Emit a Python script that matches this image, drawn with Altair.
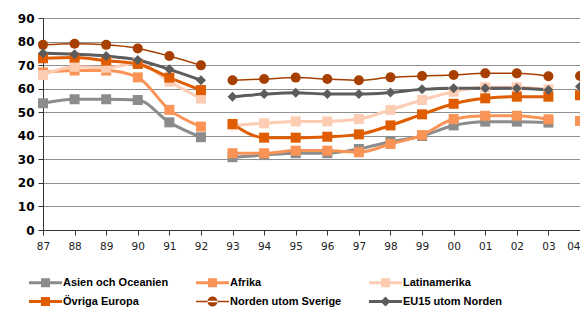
import altair as alt
import pandas as pd

years = ["87","88","89","90","91","92","93","94","95","96","97","98","99","00","01","02","03","04"]
segments = [0,0,0,0,0,0,1,1,1,1,1,1,1,1,1,1,1,2]

series_names = ["Asien och Oceanien", "Afrika", "Latinamerika",
                "Övriga Europa", "Norden utom Sverige", "EU15 utom Norden"]
colors = ["#8c8c8c", "#fa9456", "#fdcdb3", "#df5c00", "#a63f00", "#5c5c5c"]

asien = [53.8,55.5,55.5,55.2,45.7,39.4,30.9,31.8,32.6,32.6,34.4,37.5,39.9,44.4,46.0,46.0,45.6,None]
afrika = [66.9,67.7,67.7,64.8,51.0,43.9,32.6,32.6,33.7,33.7,33.0,36.5,40.3,47.1,48.5,48.5,47.0,46.3]
latin = [65.8,69.3,68.9,70.8,63.0,55.8,44.4,45.3,46.1,46.1,47.1,51.0,55.2,58.7,60.6,60.6,59.7,None]
ovriga = [72.9,73.2,71.9,70.5,64.7,59.4,45.0,39.2,39.2,39.6,40.6,44.4,49.1,53.6,55.9,56.6,56.6,57.2]
norden = [78.6,79.1,78.6,77.1,73.9,69.9,63.6,64.1,64.7,64.1,63.6,64.8,65.4,65.8,66.5,66.5,65.3,65.4]
eu15 = [75.0,74.6,73.9,72.2,68.2,63.6,56.6,57.7,58.3,57.7,57.7,58.4,59.7,60.2,60.2,60.2,59.4,60.9]

all_values = [asien, afrika, latin, ovriga, norden, eu15]
marker_shapes = ["square", "square", "square", "square", "circle", "diamond"]
marker_sizes = [100, 100, 100, 100, 121, 90]

rows = []
for name, vals in zip(series_names, all_values):
    for y, s, v in zip(years, segments, vals):
        if v is not None:
            rows.append({"year": y, "seg": s, "series": name, "value": v})
df = pd.DataFrame(rows)

# legend symbol paths (line + marker)
sq = "M-3.3,-0.3H3.3V0.3H-3.3Z M-0.9,-0.9H0.9V0.9H-0.9Z"
ci = ("M-3.3,-0.15H3.3V0.15H-3.3Z M-1,0 A1,1 0 1,0 1,0 A1,1 0 1,0 -1,0 Z")
di = "M-3.3,-0.3H3.3V0.3H-3.3Z M0,-1L1,0L0,1L-1,0Z"
legend_paths = [sq, sq, sq, sq, ci, di]

x_enc = alt.X("year:O", sort=years,
              scale=alt.Scale(type="point", padding=0, domain=years),
              axis=alt.Axis(title=None, labelAngle=0, domain=True, domainColor="#333",
                            ticks=True, tickColor="#333", tickSize=5, labelPadding=6,
                            labelFont="DejaVu Sans", labelFontSize=10.5,
                            labelAlign=alt.condition("datum.value == '04'",
                                                     alt.value("right"), alt.value("center")),
                            labelColor="#222", grid=False))
y_enc = alt.Y("value:Q",
              scale=alt.Scale(domain=[0, 90], nice=False),
              axis=alt.Axis(title=None, values=list(range(0, 100, 10)),
                            domain=True, domainColor="#333", ticks=True,
                            tickColor="#333", tickSize=5, labelPadding=4,
                            labelFont="DejaVu Sans", labelFontWeight="bold",
                            labelFontSize=12, labelColor="#000",
                            grid=True, gridColor="#8f8f8f", gridWidth=1))

color_scale = alt.Scale(domain=series_names, range=colors)
norden_name = "Norden utom Sverige"

thick_lines = alt.Chart(df).mark_line(interpolate="monotone", strokeWidth=3).encode(
    x=x_enc, y=y_enc,
    color=alt.Color("series:N", scale=color_scale, legend=None),
    detail="seg:N",
).transform_filter(alt.datum.series != norden_name)

thin_lines = alt.Chart(df).mark_line(interpolate="monotone", strokeWidth=1.5).encode(
    x=x_enc, y=y_enc,
    color=alt.Color("series:N", scale=color_scale, legend=None),
    detail="seg:N",
).transform_filter(alt.datum.series == norden_name)

points = alt.Chart(df).mark_point(filled=True, opacity=1).encode(
    x=x_enc, y=y_enc,
    color=alt.Color("series:N", scale=color_scale, legend=None),
    shape=alt.Shape("series:N", scale=alt.Scale(domain=series_names, range=marker_shapes),
                    legend=None),
    size=alt.Size("series:N", scale=alt.Scale(domain=series_names, range=marker_sizes),
                  legend=None),
)

legend_layer = alt.Chart(df).mark_point(filled=True, opacity=1).encode(
    x=x_enc, y=y_enc,
    color=alt.Color("series:N", scale=color_scale,
                    legend=alt.Legend(title=None, orient="none", legendX=-15, legendY=259,
                                      direction="horizontal", columns=3,
                                      symbolSize=100, symbolStrokeWidth=0,
                                      symbolOffset=12, labelOffset=12,
                                      labelFont="Liberation Sans", labelFontWeight="bold",
                                      labelFontSize=11, labelColor="#000",
                                      columnPadding=26, rowPadding=7,
                                      labelLimit=200)),
    shape=alt.Shape("series:N", scale=alt.Scale(domain=series_names, range=legend_paths)),
).transform_filter("datum.value > 1000")

chart = alt.layer(thick_lines, thin_lines, points, legend_layer).resolve_scale(
    shape="independent", color="independent", size="independent"
).properties(
    width=537, height=212,
    autosize=alt.AutoSizeParams(type="none"),
    padding={"left": 35, "top": 10, "right": 0, "bottom": 83},
).configure_view(stroke=None).configure_axis(labelOverlap=False)

chart.save("out.html", embed_options={"renderer": "svg", "actions": False})
